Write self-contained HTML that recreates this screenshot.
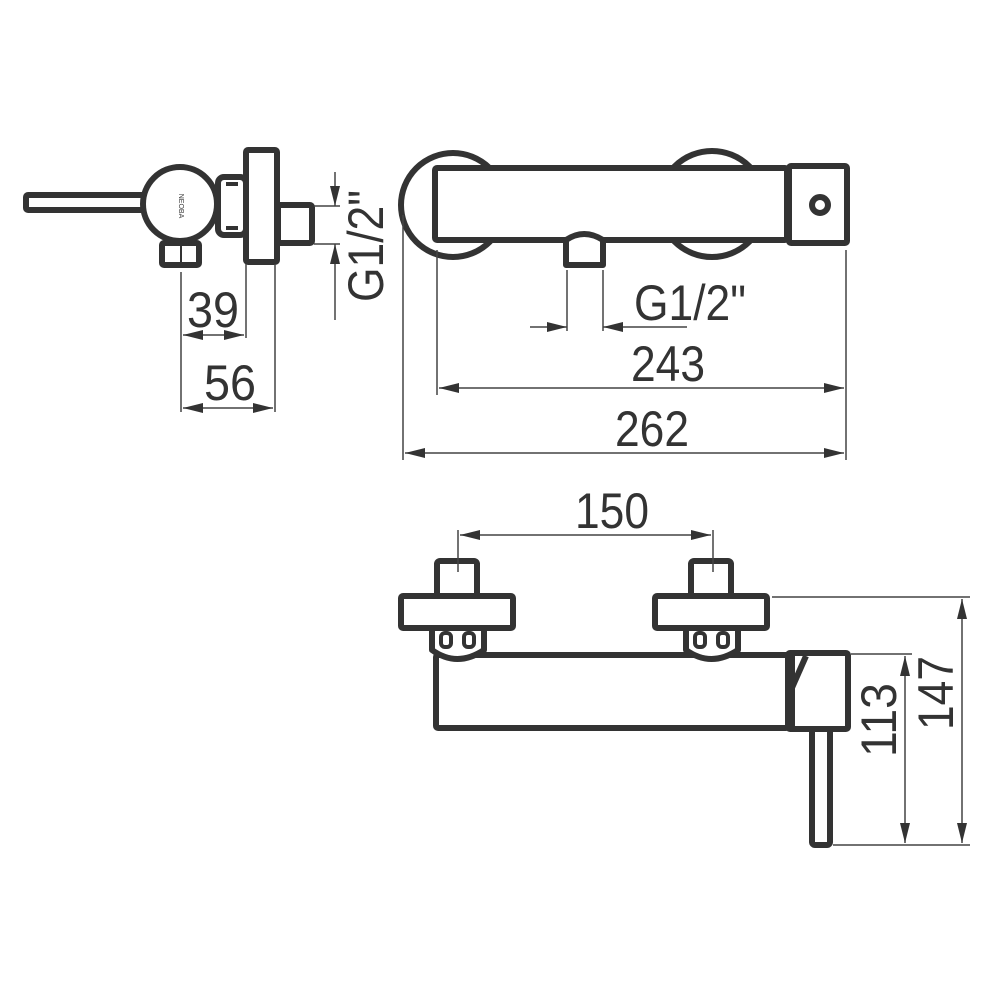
<!DOCTYPE html>
<html><head><meta charset="utf-8"><style>
html,body{margin:0;padding:0;background:#fff}
svg{display:block}
text{font-family:"Liberation Sans",sans-serif;fill:#333}
</style></head><body>
<svg width="1000" height="1000" viewBox="0 0 1000 1000" xmlns="http://www.w3.org/2000/svg">
<defs>
<marker id="a" viewBox="0 0 20 10" refX="20" refY="5" markerWidth="20" markerHeight="10" markerUnits="userSpaceOnUse" orient="auto-start-reverse"><path d="M0,0L20,5L0,10z" fill="#333"/></marker>
</defs>
<g fill="#fff" stroke="#333" stroke-width="6" stroke-linejoin="round">
<!-- side view -->
<rect x="26" y="195" width="120" height="15" rx="2"/>
<rect x="162" y="243" width="37" height="22" rx="2"/>
<line x1="181" y1="244" x2="181" y2="264" stroke-width="2"/>
<circle cx="180" cy="204" r="37"/>
<rect x="218" y="177" width="28" height="58" rx="6"/>
<rect x="278" y="205" width="34" height="38" rx="2"/>
<rect x="246" y="150" width="31" height="112" rx="2"/>
<!-- front view -->
<circle cx="453" cy="205" r="52"/>
<circle cx="712" cy="204" r="53"/>
<rect x="435" y="168" width="352" height="72" rx="2"/>
<path d="M566,265 L566,240 Q584,228 603,240 L603,265 Z"/>
<rect x="789" y="166" width="58" height="77" rx="2"/>
<circle cx="820" cy="205" r="8"/>
<!-- bottom view -->
<rect x="437" y="561" width="40" height="36" rx="3"/>
<rect x="691" y="561" width="40" height="36" rx="3"/>
<rect x="436" y="655" width="352" height="73" rx="2"/>
<path d="M432,628 L432,650 Q457,668 484,650 L484,628 Z"/>
<path d="M686,628 L686,650 Q711,668 738,650 L738,628 Z"/>
<rect x="401" y="596" width="112" height="32" rx="2"/>
<rect x="655" y="596" width="112" height="32" rx="2"/>
<rect x="812" y="728" width="18" height="117" rx="3"/>
<rect x="788" y="653" width="60" height="76" rx="2"/>
<path d="M806,656 L791,690" fill="none"/>
<line x1="791" y1="655" x2="791" y2="728" stroke-width="8"/>
</g>
<g fill="#333" stroke="none">
<rect x="226" y="182" width="12" height="4"/>
<rect x="226" y="226" width="12" height="4"/>
</g>
<g fill="#fff" stroke="#333" stroke-width="4">
<rect x="441" y="633" width="10" height="14" rx="4"/>
<rect x="464" y="633" width="10" height="14" rx="4"/>
<rect x="695" y="633" width="10" height="14" rx="4"/>
<rect x="718" y="633" width="10" height="14" rx="4"/>
</g>
<text x="181" y="208" font-size="7" text-anchor="middle" transform="rotate(90 181 206)">NEOBA</text>
<!-- dimension lines -->
<g stroke="#444" stroke-width="1.5" fill="none">
<line x1="181" y1="272" x2="181" y2="412"/>
<line x1="246" y1="264" x2="246" y2="338"/>
<line x1="275" y1="264" x2="275" y2="412"/>
<line x1="183" y1="335" x2="244" y2="335" marker-start="url(#a)" marker-end="url(#a)"/>
<line x1="183" y1="408" x2="273" y2="408" marker-start="url(#a)" marker-end="url(#a)"/>
<line x1="314" y1="206" x2="340" y2="206"/>
<line x1="314" y1="244" x2="340" y2="244"/>
<line x1="335" y1="172" x2="335" y2="206" marker-end="url(#a)"/>
<line x1="335" y1="320" x2="335" y2="244" marker-end="url(#a)"/>

<line x1="437" y1="250" x2="437" y2="395"/>
<line x1="846" y1="250" x2="846" y2="460"/>
<line x1="403" y1="215" x2="403" y2="460"/>
<line x1="567" y1="270" x2="567" y2="331"/>
<line x1="603" y1="270" x2="603" y2="331"/>
<line x1="530" y1="327" x2="567" y2="327" marker-end="url(#a)"/>
<line x1="687" y1="327" x2="603" y2="327" marker-end="url(#a)"/>
<line x1="439" y1="388" x2="844" y2="388" marker-start="url(#a)" marker-end="url(#a)"/>
<line x1="405" y1="453" x2="844" y2="453" marker-start="url(#a)" marker-end="url(#a)"/>

<line x1="458" y1="530" x2="458" y2="572"/>
<line x1="713" y1="530" x2="713" y2="572"/>
<line x1="460" y1="535" x2="711" y2="535" marker-start="url(#a)" marker-end="url(#a)"/>
<line x1="772" y1="597" x2="970" y2="597"/>
<line x1="851" y1="654" x2="912" y2="654"/>
<line x1="833" y1="845" x2="970" y2="845"/>
<line x1="905" y1="656" x2="905" y2="843" marker-start="url(#a)" marker-end="url(#a)"/>
<line x1="962" y1="599" x2="962" y2="843" marker-start="url(#a)" marker-end="url(#a)"/>
</g>
<g font-size="50">
<text x="213" y="327" text-anchor="middle" textLength="52" lengthAdjust="spacingAndGlyphs">39</text>
<text x="230" y="400" text-anchor="middle" textLength="52" lengthAdjust="spacingAndGlyphs">56</text>
<text x="0" y="0" text-anchor="middle" textLength="112" lengthAdjust="spacingAndGlyphs" transform="translate(383 246) rotate(-90)">G1/2"</text>
<text x="690" y="320" text-anchor="middle" textLength="112" lengthAdjust="spacingAndGlyphs">G1/2"</text>
<text x="668" y="381" text-anchor="middle" textLength="74" lengthAdjust="spacingAndGlyphs">243</text>
<text x="652" y="446" text-anchor="middle" textLength="74" lengthAdjust="spacingAndGlyphs">262</text>
<text x="612" y="528" text-anchor="middle" textLength="74" lengthAdjust="spacingAndGlyphs">150</text>
<text x="0" y="0" text-anchor="middle" textLength="74" lengthAdjust="spacingAndGlyphs" transform="translate(896 720) rotate(-90)">113</text>
<text x="0" y="0" text-anchor="middle" textLength="74" lengthAdjust="spacingAndGlyphs" transform="translate(953 693) rotate(-90)">147</text>
</g>
</svg>
</body></html>
